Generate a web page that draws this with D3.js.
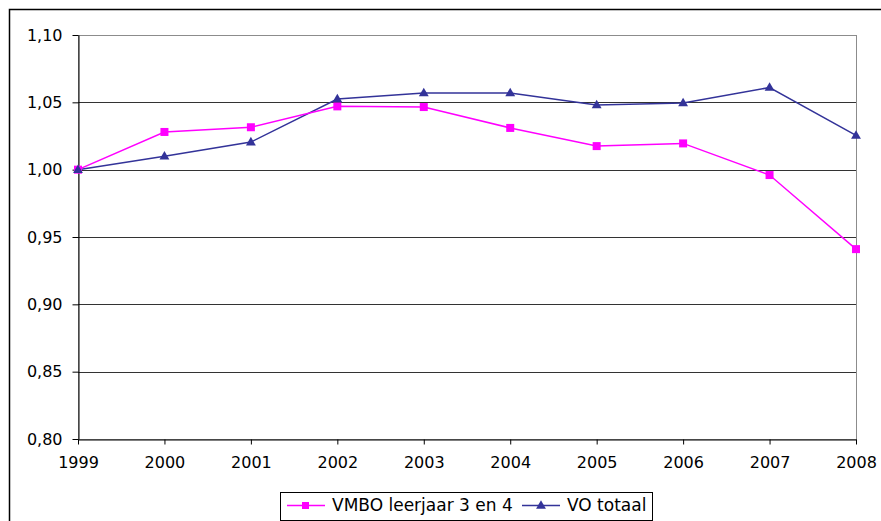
<!DOCTYPE html>
<html>
<head>
<meta charset="utf-8">
<script src="https://cdn.jsdelivr.net/npm/d3@7"></script>
<style>
  body { margin: 0; background: #fff; }
  text { font-family: "DejaVu Sans", sans-serif; }
</style>
</head>
<body>
<div id="chart"></div>
<script>
// data
var years = [1999, 2000, 2001, 2002, 2003, 2004, 2005, 2006, 2007, 2008];
var vmbo = [1.000, 1.028, 1.0315, 1.047, 1.0465, 1.031, 1.0175, 1.0195, 0.996, 0.941];
var voTotaal = [1.000, 1.010, 1.0205, 1.0525, 1.057, 1.057, 1.048, 1.0495, 1.061, 1.0255];
var yTicks = [0.80, 0.85, 0.90, 0.95, 1.00, 1.05, 1.10];
var seriesNames = ["VMBO leerjaar 3 en 4", "VO totaal"];

var W = 881, H = 521;
var margin = {top: 35, right: 25, bottom: 82, left: 78},
    width = 856 - margin.left,
    height = 439 - margin.top;

var svg = d3.select("#chart")
  .append("svg")
    .attr("width", W)
    .attr("height", H);

// outer frame (runs off the right and bottom edges)
svg.append("rect")
  .attr("x", 9.5).attr("y", 9.5)
  .attr("width", W + 10).attr("height", H + 10)
  .attr("fill", "none").attr("stroke", "#000").attr("stroke-width", 1.5);

var g = svg.append("g")
  .attr("transform", "translate(" + margin.left + "," + margin.top + ")");

var x = d3.scalePoint()
  .domain(years)
  .range([0, width]);

var y = d3.scaleLinear()
  .domain([0.80, 1.10])
  .range([height, 0]);

var fmt = function(d) { return d3.format(".2f")(d).replace(".", ","); };

// plot area border (gray)
g.append("rect")
  .attr("x", 0.5).attr("y", 0.5)
  .attr("width", width).attr("height", height)
  .attr("fill", "none").attr("stroke", "#8c8c8c");

// gridlines
g.selectAll(".grid")
  .data(yTicks.slice(1, -1))
  .enter()
  .append("line")
    .attr("class", "grid")
    .attr("x1", 0).attr("x2", width)
    .attr("y1", function(d) { return Math.round(y(d)) + 0.5; })
    .attr("y2", function(d) { return Math.round(y(d)) + 0.5; })
    .attr("stroke", "#333").attr("stroke-width", 1);

// Y axis
var yAxis = g.append("g")
  .attr("transform", "translate(0.5,0)")
  .call(d3.axisLeft(y).tickValues(yTicks).tickFormat(fmt).tickSize(6).tickSizeOuter(0));
yAxis.select(".domain").attr("stroke", "#000");
yAxis.selectAll("text")
  .attr("x", -16)
  .style("font-size", "16px")
  .attr("fill", "#000");

// X axis
var xAxis = g.append("g")
  .attr("transform", "translate(0," + (height + 0.5) + ")")
  .call(d3.axisBottom(x).tickSize(5).tickSizeOuter(0));
xAxis.select(".domain").attr("stroke", "#000");
xAxis.selectAll("text")
  .attr("y", 17)
  .style("font-size", "16px")
  .attr("fill", "#000");

var line = d3.line()
  .x(function(d, i) { return x(years[i]); })
  .y(function(d) { return y(d); });

// VO totaal
g.append("path")
  .datum(voTotaal)
  .attr("d", line)
  .attr("fill", "none")
  .attr("stroke", "#333399")
  .attr("stroke-width", 1.5);

// VMBO
g.append("path")
  .datum(vmbo)
  .attr("d", line)
  .attr("fill", "none")
  .attr("stroke", "#ff00ff")
  .attr("stroke-width", 1.5);

var tri = d3.symbol().type(d3.symbolTriangle).size(42);

g.selectAll(".sq")
  .data(vmbo)
  .enter()
  .append("rect")
    .attr("class", "sq")
    .attr("x", function(d, i) { return x(years[i]) - 4; })
    .attr("y", function(d) { return y(d) - 4; })
    .attr("width", 8).attr("height", 8)
    .attr("fill", "#ff00ff");

g.selectAll(".tri")
  .data(voTotaal)
  .enter()
  .append("path")
    .attr("class", "tri")
    .attr("d", tri)
    .attr("transform", function(d, i) { return "translate(" + x(years[i]) + "," + (y(d) + 0.5) + ")"; })
    .attr("fill", "#333399");

// legend
var legend = svg.append("g").attr("transform", "translate(280,492)");
legend.append("rect")
  .attr("x", 0.5).attr("y", 0.5)
  .attr("width", 372).attr("height", 28)
  .attr("fill", "#fff").attr("stroke", "#000");

var lx = [7, 242];
var lcol = ["#ff00ff", "#333399"];
seriesNames.forEach(function(name, i) {
  legend.append("line")
    .attr("x1", lx[i]).attr("x2", lx[i] + 38)
    .attr("y1", 13.5).attr("y2", 13.5)
    .attr("stroke", lcol[i]).attr("stroke-width", 1.5);
  if (i === 0) {
    legend.append("rect")
      .attr("x", lx[i] + 15).attr("y", 10)
      .attr("width", 7).attr("height", 7)
      .attr("fill", lcol[i]);
  } else {
    legend.append("path")
      .attr("d", tri)
      .attr("transform", "translate(" + (lx[i] + 19) + ",14)")
      .attr("fill", lcol[i]);
  }
  legend.append("text")
    .attr("x", lx[i] + 45)
    .attr("y", 18.5)
    .style("font-size", "17px")
    .text(name);
});
</script>
</body>
</html>
